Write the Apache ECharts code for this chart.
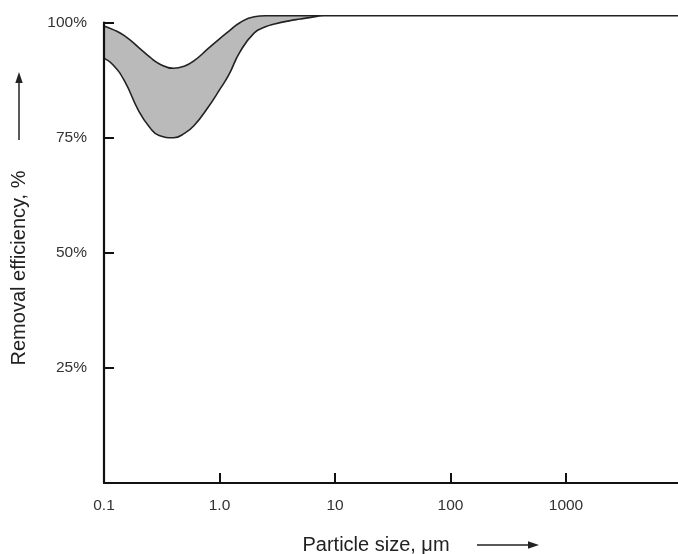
<!DOCTYPE html>
<html>
<head>
<meta charset="utf-8">
<title>Removal efficiency vs particle size</title>
<script src="https://cdn.jsdelivr.net/npm/echarts@6/dist/echarts.min.js"></script>
<style>
    html, body { margin: 0; padding: 0; background: #fff; }
    #chart { width: 678px; height: 554px; }
</style>
</head>
<body>
<div id="chart"></div>
<script>
// particle size (um), shared by both curves
const sizes = [0.1, 0.12, 0.15, 0.2, 0.25, 0.3, 0.4, 0.5, 0.6, 0.8, 1.0, 1.2, 1.5, 2, 2.5, 3, 4, 5, 6, 8, 10, 10000];
// upper bound of the efficiency band (%)
const upperEff = [99.3, 98.5, 97.2, 94.6, 92.5, 91.1, 90.1, 90.6, 91.7, 94.4, 96.5, 98.1, 100.0, 101.3, 101.5, 101.5, 101.5, 101.5, 101.5, 101.5, 101.5, 101.5];
// lower bound of the efficiency band (%)
const lowerEff = [92.3, 90.8, 87.4, 80.8, 77.2, 75.5, 75.0, 76.0, 77.6, 81.7, 85.4, 88.6, 93.6, 97.8, 99.1, 99.7, 100.4, 100.8, 101.1, 101.5, 101.5, 101.5];
// tick labels
const xTickValues = [0.1, 1, 10, 100, 1000];
const xTickLabels = ['0.1', '1.0', '10', '100', '1000'];
const yTickValues = [25, 50, 75, 100];
const yTickLabels = ['25%', '50%', '75%', '100%'];

document.addEventListener('DOMContentLoaded', () => {
    const FONT = '"Liberation Sans", Arial, Helvetica, sans-serif';
    const INK = '#222';

    const initChart = () => {
        const el = document.getElementById('chart');
        if (!el) return;
        const chart = echarts.init(el);

        const upperData = sizes.map((s, i) => [s, upperEff[i]]);
        const lowerData = sizes.map((s, i) => [s, lowerEff[i]]);

        const option = {
            animation: false,
            backgroundColor: '#fff',
            grid: {
                left: 104,
                top: 22.7,
                bottom: 71,
                right: -3.5,   // last decade runs just past the edge
                outerBoundsMode: 'none'
            },
            xAxis: {
                type: 'log',
                logBase: 10,
                min: 0.1,
                max: 10000,
                z: 10,
                axisLine: { lineStyle: { color: '#111', width: 2.2 } },
                axisTick: { inside: true, length: 10, lineStyle: { color: '#111', width: 2 } },
                axisLabel: {
                    margin: 15,
                    color: '#333',
                    fontFamily: FONT,
                    fontSize: 15.5,
                    formatter: v => {
                        const k = xTickValues.findIndex(t => Math.abs(Math.log10(t) - Math.log10(v)) < 1e-6);
                        return k >= 0 ? xTickLabels[k] : '';
                    }
                },
                splitLine: { show: false },
                minorTick: { show: false }
            },
            yAxis: {
                type: 'value',
                min: 0,
                max: 100,
                interval: 25,
                z: 10,
                axisLine: { show: true, lineStyle: { color: '#111', width: 2.2 } },
                axisTick: { show: true, inside: true, length: 10, lineStyle: { color: '#111', width: 2 } },
                axisLabel: {
                    margin: 17,
                    color: '#333',
                    fontFamily: FONT,
                    fontSize: 15.5,
                    formatter: v => {
                        const k = yTickValues.indexOf(v);
                        return k >= 0 ? yTickLabels[k] : '';
                    }
                },
                splitLine: { show: false }
            },
            series: [
                // upper curve, grey fill down to the axis
                {
                    name: 'upper',
                    type: 'line',
                    data: upperData,
                    smooth: 0.5,
                    symbol: 'none',
                    clip: false,
                    lineStyle: { color: INK, width: 1.6 },
                    areaStyle: { color: '#bababa', opacity: 1, origin: 'start' },
                    z: 2
                },
                // lower curve, white fill hides the grey below it
                {
                    name: 'lower',
                    type: 'line',
                    data: lowerData,
                    smooth: 0.5,
                    symbol: 'none',
                    clip: false,
                    lineStyle: { color: INK, width: 1.6 },
                    areaStyle: { color: '#ffffff', opacity: 1, origin: 'start' },
                    z: 3
                }
            ],
            graphic: [
                // annotation inside the plot
                {
                    type: 'text',
                    x: 243, y: 108,
                    style: { text: 'Range of efficiencies', fill: INK, font: '20px ' + FONT, align: 'left', verticalAlign: 'middle' }
                },
                // x axis title + arrow
                {
                    type: 'text',
                    x: 376, y: 545,
                    style: { text: 'Particle size, \u03bcm', fill: INK, font: '20px ' + FONT, align: 'center', verticalAlign: 'middle' }
                },
                {
                    type: 'line',
                    shape: { x1: 477, y1: 545, x2: 530, y2: 545 },
                    style: { stroke: INK, lineWidth: 1.5 }
                },
                {
                    type: 'polygon',
                    shape: { points: [[539, 545], [528, 541.3], [528, 548.7]] },
                    style: { fill: INK }
                },
                // y axis title + arrow
                {
                    type: 'text',
                    x: 19, y: 268,
                    rotation: Math.PI / 2,
                    style: { text: 'Removal efficiency, %', fill: INK, font: '20px ' + FONT, align: 'center', verticalAlign: 'middle' }
                },
                {
                    type: 'line',
                    shape: { x1: 19, y1: 140, x2: 19, y2: 80 },
                    style: { stroke: INK, lineWidth: 1.5 }
                },
                {
                    type: 'polygon',
                    shape: { points: [[19, 72], [15.3, 83], [22.7, 83]] },
                    style: { fill: INK }
                }
            ]
        };

        chart.setOption(option);
        window.addEventListener('resize', () => chart.resize());
    };

    initChart();
});
</script>
</body>
</html>
